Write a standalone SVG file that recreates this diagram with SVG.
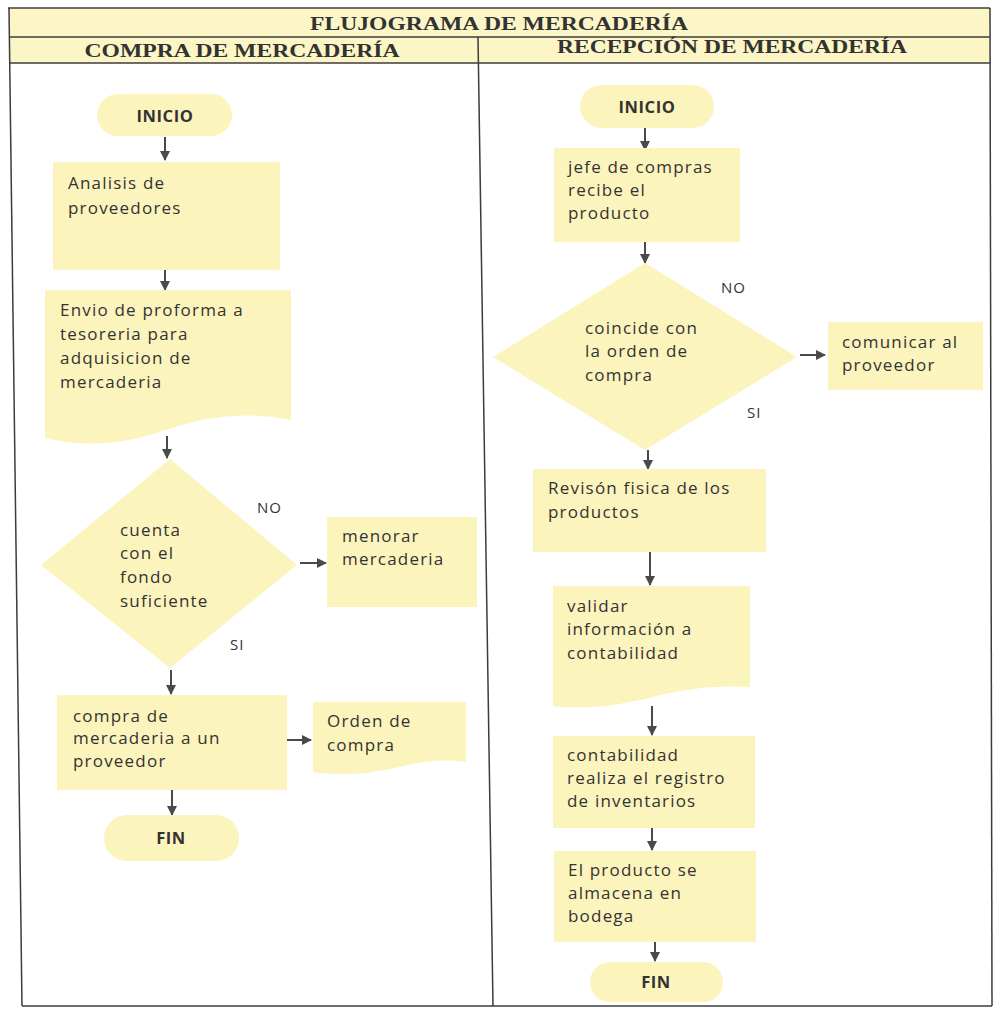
<svg xmlns="http://www.w3.org/2000/svg" width="994" height="1010" viewBox="0 0 994 1010">
<defs>
<marker id="ah" viewBox="0 0 10 10" refX="9" refY="5" markerWidth="5" markerHeight="5" orient="auto">
<path d="M0,0 L10,5 L0,10 z" fill="#4a4a4a"/>
</marker>
<style>
.hd{fill:#fcf6c6}
.ln{stroke:#3c3c3c;stroke-width:1.5;fill:none}
.nd{fill:#fcf4bd}
.t{font-family:"Open Sans","Liberation Sans",sans-serif;font-size:17px;letter-spacing:1.2px;fill:#333}
.tb{font-family:"Open Sans","Liberation Sans",sans-serif;font-size:16.5px;letter-spacing:0.6px;font-weight:bold;fill:#333}
.lb{font-family:"Open Sans","Liberation Sans",sans-serif;font-size:15px;letter-spacing:1px;fill:#333}
.h{font-family:"Liberation Serif",serif;font-weight:bold;fill:#333}
.c{stroke:#4a4a4a;stroke-width:2;fill:none;marker-end:url(#ah)}
</style>
</defs>
<rect width="994" height="1010" fill="#ffffff"/>
<g id="table">
<polygon class="hd" points="9,8 990,8 990,63 10,63"/>
<line class="ln" x1="8" y1="8" x2="990" y2="8"/>
<line class="ln" x1="9" y1="37" x2="990" y2="37"/>
<line class="ln" x1="10" y1="63" x2="990" y2="63"/>
<line class="ln" x1="9" y1="8" x2="22" y2="1006"/>
<line class="ln" x1="990" y1="8" x2="992" y2="1006"/>
<line class="ln" x1="22" y1="1006" x2="992" y2="1006"/>
<line class="ln" x1="478" y1="37" x2="493" y2="1006"/>
<text class="h" x="499" y="30" font-size="19" text-anchor="middle" textLength="378" lengthAdjust="spacingAndGlyphs">FLUJOGRAMA DE MERCADERÍA</text>
<text class="h" x="242" y="57" font-size="19" text-anchor="middle" textLength="315" lengthAdjust="spacingAndGlyphs">COMPRA DE MERCADERÍA</text>
<text class="h" x="732" y="53" font-size="19" text-anchor="middle" textLength="350" lengthAdjust="spacingAndGlyphs">RECEPCIÓN DE MERCADERÍA</text>
</g>
<g id="connectors">
<line class="c" x1="165" y1="137" x2="165" y2="160"/>
<line class="c" x1="165" y1="270" x2="165" y2="290"/>
<line class="c" x1="167" y1="436" x2="167" y2="458"/>
<line class="c" x1="300" y1="563" x2="326" y2="563"/>
<line class="c" x1="171" y1="670" x2="171" y2="694"/>
<line class="c" x1="286" y1="740" x2="311" y2="740"/>
<line class="c" x1="172" y1="790" x2="172" y2="815"/>
<line class="c" x1="645" y1="128" x2="645" y2="150"/>
<line class="c" x1="645" y1="242" x2="645" y2="263"/>
<line class="c" x1="800" y1="355" x2="825" y2="355"/>
<line class="c" x1="648" y1="450" x2="648" y2="469"/>
<line class="c" x1="650" y1="552" x2="650" y2="585"/>
<line class="c" x1="652" y1="706" x2="652" y2="735"/>
<line class="c" x1="652" y1="828" x2="652" y2="850"/>
<line class="c" x1="655" y1="942" x2="655" y2="961"/>
<text class="lb" x="257" y="513">NO</text>
<text class="lb" x="230" y="650">SI</text>
<text class="lb" x="721" y="293">NO</text>
<text class="lb" x="747" y="418">SI</text>
</g>
<g id="inicio1">
<rect class="nd" x="97" y="94" width="135" height="42" rx="21"/>
<text class="tb" x="165" y="122" text-anchor="middle">INICIO</text>
</g>
<g id="analisis">
<rect class="nd" x="53" y="162" width="227" height="108"/>
<text class="t" x="68" y="189">Analisis de</text>
<text class="t" x="68" y="214">proveedores</text>
</g>
<g id="envio">
<path class="nd" d="M45,290 H291 V420 C240,410 200,418 160,432 C110,448 75,445 45,438 Z"/>
<text class="t" x="60" y="316">Envio de proforma a</text>
<text class="t" x="60" y="340">tesoreria para</text>
<text class="t" x="60" y="364">adquisicion de</text>
<text class="t" x="60" y="388">mercaderia</text>
</g>
<g id="decision1">
<polygon class="nd" points="170,459 297,565 170,668 41,565"/>
<text class="t" x="120" y="536">cuenta</text>
<text class="t" x="120" y="559">con el</text>
<text class="t" x="120" y="583">fondo</text>
<text class="t" x="120" y="607">suficiente</text>
</g>
<g id="menorar">
<rect class="nd" x="327" y="517" width="150" height="90"/>
<text class="t" x="342" y="542">menorar</text>
<text class="t" x="342" y="565">mercaderia</text>
</g>
<g id="compra">
<rect class="nd" x="57" y="695" width="230" height="95"/>
<text class="t" x="73" y="722">compra de</text>
<text class="t" x="73" y="744">mercaderia a un</text>
<text class="t" x="73" y="767">proveedor</text>
</g>
<g id="orden">
<path class="nd" d="M313,702 H466 V762 C440,758 420,762 395,768 C370,774 340,776 313,772 Z"/>
<text class="t" x="327" y="727">Orden de</text>
<text class="t" x="327" y="751">compra</text>
</g>
<g id="fin1">
<rect class="nd" x="104" y="815" width="135" height="46" rx="23"/>
<text class="tb" x="171" y="844" text-anchor="middle">FIN</text>
</g>
<g id="inicio2">
<rect class="nd" x="580" y="85" width="134" height="43" rx="21.5"/>
<text class="tb" x="647" y="113" text-anchor="middle">INICIO</text>
</g>
<g id="jefe">
<rect class="nd" x="554" y="148" width="186" height="94"/>
<text class="t" x="568" y="173">jefe de compras</text>
<text class="t" x="568" y="196">recibe el</text>
<text class="t" x="568" y="219">producto</text>
</g>
<g id="decision2">
<polygon class="nd" points="645,263 797,357 645,450 493,357"/>
<text class="t" x="585" y="334">coincide con</text>
<text class="t" x="585" y="357">la orden de</text>
<text class="t" x="585" y="381">compra</text>
</g>
<g id="comunicar">
<rect class="nd" x="828" y="322" width="155" height="68"/>
<text class="t" x="842" y="348">comunicar al</text>
<text class="t" x="842" y="371">proveedor</text>
</g>
<g id="revision">
<rect class="nd" x="533" y="469" width="233" height="83"/>
<text class="t" x="548" y="494">Revisón fisica de los</text>
<text class="t" x="548" y="518">productos</text>
</g>
<g id="validar">
<path class="nd" d="M553,586 H750 V687 C720,685 690,688 660,695 C620,706 585,710 553,706 Z"/>
<text class="t" x="567" y="612">validar</text>
<text class="t" x="567" y="635">información a</text>
<text class="t" x="567" y="659">contabilidad</text>
</g>
<g id="contabilidad">
<rect class="nd" x="553" y="736" width="202" height="92"/>
<text class="t" x="567" y="761">contabilidad</text>
<text class="t" x="567" y="784">realiza el registro</text>
<text class="t" x="567" y="807">de inventarios</text>
</g>
<g id="almacena">
<rect class="nd" x="554" y="851" width="202" height="91"/>
<text class="t" x="568" y="876">El producto se</text>
<text class="t" x="568" y="899">almacena en</text>
<text class="t" x="568" y="922">bodega</text>
</g>
<g id="fin2">
<rect class="nd" x="590" y="962" width="133" height="40" rx="20"/>
<text class="tb" x="656" y="988" text-anchor="middle">FIN</text>
</g>
</svg>
